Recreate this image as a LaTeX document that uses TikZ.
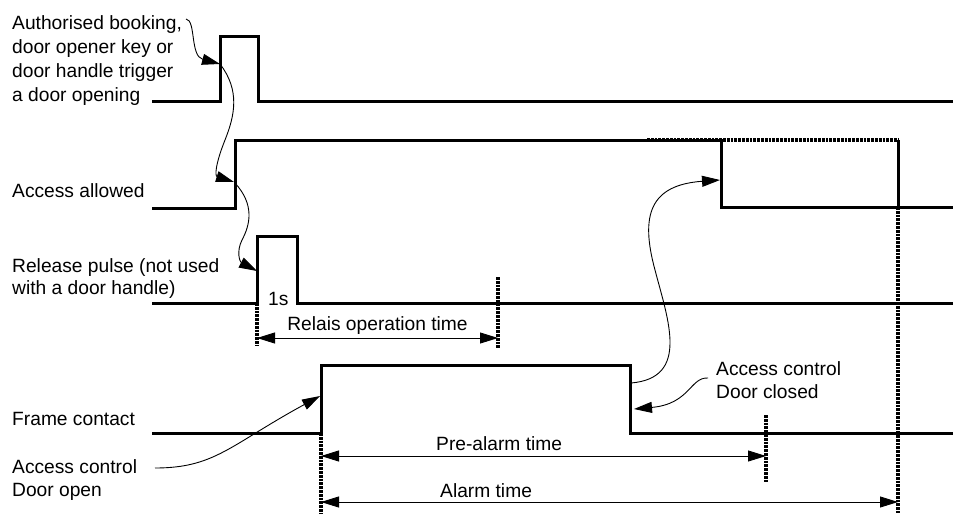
\documentclass[tikz,border=0pt]{standalone}
\usepackage{fontspec}
\setmainfont{Liberation Sans}
\usetikzlibrary{arrows.meta}
\begin{document}
\begin{tikzpicture}[x=1pt,y=-1pt,
  sig/.style={line width=3pt, line join=miter},
  dots/.style={line width=3.2pt, dash pattern=on 2.8pt off 1pt},
  tip/.tip={Triangle[length=18pt,width=11pt]},
  dim/.style={line width=0.9pt, {tip}-{tip}},
  curvy/.style={line width=0.9pt, -{tip}},
  lbl/.style={inner sep=0pt, font=\fontsize{19.2}{24}\selectfont, align=left},
]
\useasboundingbox (0,0) rectangle (957,514);

% ---- signals ----
\draw[sig] (152,101) -- (220,101) -- (220,36) -- (258,36) -- (258,101) -- (953,101);
\draw[sig] (152,208) -- (235,208) -- (235,140) -- (721,140) -- (721,207) -- (953,207);
\draw[sig] (898,140) -- (898,207);
\draw[sig] (152,303) -- (257,303) -- (257,236) -- (297,236) -- (297,303) -- (953,303);
\draw[sig] (152,433) -- (321,433) -- (321,365) -- (630,365) -- (630,433) -- (953,433);

% ---- dotted markers ----
\draw[dots] (647,140) -- (898,140);
\draw[dots] (257,303) -- (257,346);
\draw[dots] (498,277) -- (498,348);
\draw[dots] (321,433) -- (321,513);
\draw[dots] (766,415) -- (766,483);
\draw[dots] (898,207) -- (898,513);

% ---- labels ----
\node[lbl, anchor=north west, font=\fontsize{19.2}{24}\selectfont] (trig) at (12,15)
  {Authorised booking,\\door opener key or\\door handle trigger\\a door opening};
\node[lbl, anchor=base west] (acc) at (12,197) {Access allowed};
\node[lbl, anchor=north west, font=\fontsize{19.2}{22}\selectfont] (rel) at (12,258)
  {Release pulse (not used\\with a door handle)};
\node[lbl, anchor=base west] (frame) at (12,425) {Frame contact};
\node[lbl, anchor=north west, font=\fontsize{19.2}{23.3}\selectfont] (dopen) at (12,459)
  {Access control\\Door open};
\node[lbl, anchor=north west, font=\fontsize{19.2}{23}\selectfont] (dclosed) at (716,361)
  {Access control\\Door closed};
\node[lbl, anchor=base west] (one) at (268,305) {1s};
\node[lbl, anchor=base] (relt) at (377.5,330) {Relais operation time};
\node[lbl, anchor=base west] (pre) at (436,450) {Pre-alarm time};
\node[lbl, anchor=base west] (alarm) at (440,497) {Alarm time};

% ---- dimension arrows ----
\coordinate (r1) at (257,338); \coordinate (r2) at (498,338);
\coordinate (p1) at (321,456); \coordinate (p2) at (766,456);
\coordinate (a1) at (321,502); \coordinate (a2) at (898,502);
\draw[dim] (r1) -- (r2);
\draw[dim] (p1) -- (p2);
\draw[dim] (a1) -- (a2);

% ---- cause arrows ----
\coordinate (c0) at (186,19);
\coordinate (c1) at (220,64);
\coordinate (c2) at (234,182);
\coordinate (c2s) at (235,183);
\coordinate (c3) at (257,271);
\coordinate (d0) at (155,468);
\coordinate (d1) at (320,396);
\coordinate (e0) at (708,378);
\coordinate (e1) at (634,409);
\coordinate (f0) at (631,383);
\coordinate (f1) at (720,180);
\draw[curvy] (c0) .. controls (196,20) and (190,56) .. (c1);
\draw[curvy] (c1) .. controls (240,90) and (235,115) .. (225,140)
  .. controls (215,165) and (215,176) .. (c2);
\draw[curvy] (c2s) .. controls (255,205) and (250,225) .. (242,240)
  .. controls (236,252) and (240,262) .. (c3);
\draw[curvy] (d0) .. controls (215,468) and (230,445) .. (d1);
\draw[curvy] (e0) .. controls (690,377) and (690,404) .. (e1);
\draw[curvy] (f0) .. controls (690,378) and (668,320) .. (655,270)
  .. controls (640,215) and (650,185) .. (f1);
\end{tikzpicture}
\end{document}
